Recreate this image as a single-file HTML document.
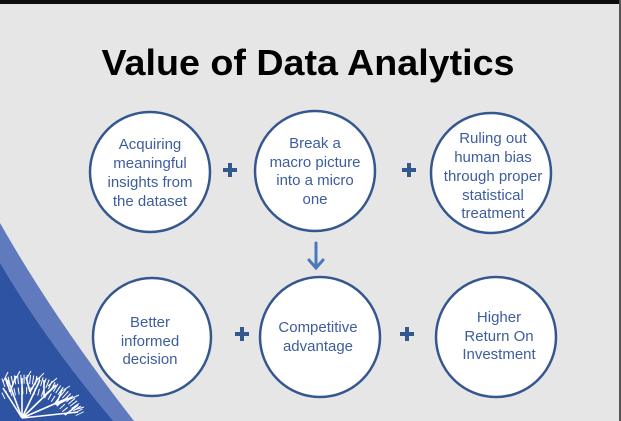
<!DOCTYPE html>
<html><head><meta charset="utf-8"><style>
html,body{margin:0;padding:0;background:#e6e6e6;width:621px;height:421px;overflow:hidden;}
svg{display:block;overflow:hidden;}
text{font-family:"Liberation Sans",Arial,sans-serif;}
</style></head><body>
<svg width="621" height="421" viewBox="0 0 621 421" xmlns="http://www.w3.org/2000/svg">
<rect width="621" height="421" fill="#e6e6e6"/>
<rect width="621" height="4" fill="#0d0d0d"/>
<rect x="619" y="0" width="2" height="421" fill="#555"/>
<path d="M0,223 Q55,320 134,421 L0,421 Z" fill="#5f7bbd"/>
<path d="M0,263 Q45,340 113,421 L0,421 Z" fill="#2f53a3"/>
<g stroke="#fff" fill="none" stroke-linecap="butt">
<path d="M3,383 A62,62 0 0 1 80,414" stroke-width="9" stroke-dasharray="1 2"/>
<path d="M3,396 A50,50 0 0 1 68,414" stroke-width="7" stroke-dasharray="1 3"/>
<g stroke-width="1.6">
<path d="M22,418 L3,388 M22,418 L8,380 M22,418 L22,378 M22,418 L40,380 M22,418 L55,386 M22,418 L68,398 M22,418 L78,412"/>
<path d="M10,392 L6,378 M10,392 L16,376 M30,392 L26,377 M30,392 L38,378 M44,396 L44,380 M44,396 L56,385 M56,405 L62,390 M56,405 L72,397 M65,415 L78,405"/>
</g>
<g stroke-width="1">
<path d="M3,382 L8,372 M15,380 L20,371 M26,380 L31,371 M36,381 L44,373 M48,386 L57,378 M60,392 L70,386 M68,400 L79,395 M74,410 L84,407"/>
</g>
</g>
<text x="308" y="75" text-anchor="middle" font-size="36" font-weight="bold" fill="#000" textLength="413" lengthAdjust="spacingAndGlyphs">Value of Data Analytics</text>
<g fill="#fff" stroke="#34578f" stroke-width="2.5">
<circle cx="150" cy="172" r="60"/>
<circle cx="315" cy="171" r="60"/>
<circle cx="491" cy="173" r="60"/>
<circle cx="152" cy="337" r="59"/>
<circle cx="320" cy="337" r="60"/>
<circle cx="496" cy="337" r="60"/>
</g>
<g font-size="15" fill="#3d5d9c" text-anchor="middle">
<text x="150" y="149">Acquiring</text><text x="150" y="168">meaningful</text><text x="150" y="187">insights from</text><text x="150" y="206">the dataset</text>
<text x="315" y="148">Break a</text><text x="315" y="167">macro picture</text><text x="315" y="185">into a micro</text><text x="315" y="204">one</text>
<text x="493" y="143">Ruling out</text><text x="493" y="162">human bias</text><text x="493" y="181">through proper</text><text x="493" y="200">statistical</text><text x="493" y="218">treatment</text>
<text x="150" y="327">Better</text><text x="150" y="346">informed</text><text x="150" y="364">decision</text>
<text x="318" y="332">Competitive</text><text x="318" y="351">advantage</text>
<text x="499" y="322">Higher</text><text x="499" y="341">Return On</text><text x="499" y="359">Investment</text>
</g>
<g stroke="#34578f" stroke-width="4">
<path d="M223,170h14M230,163v14"/>
<path d="M402,170h14M409,163v14"/>
<path d="M235,334h14M242,327v14"/>
<path d="M400,334h14M407,327v14"/>
</g>
<g stroke="#4a78b8" stroke-width="3" fill="none" stroke-linecap="round">
<path d="M316,243v24M309,260l7,8l7,-8"/>
</g>
</svg>
</body></html>
